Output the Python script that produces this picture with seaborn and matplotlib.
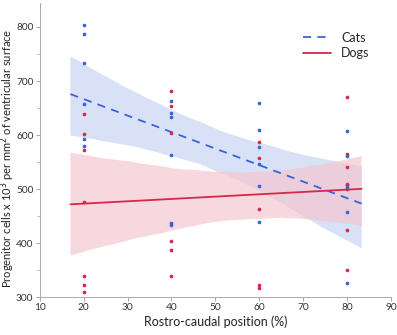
import matplotlib
matplotlib.use("Agg")
import matplotlib.pyplot as plt
import matplotlib.ticker as ticker
import numpy as np
import pandas as pd
import seaborn as sns

# values
positions = [20, 40, 60, 80]
cats_20 = [804, 787, 733, 657, 592, 579]
cats_40 = [663, 640, 633, 563, 438, 433]
cats_60 = [660, 609, 577, 546, 505, 439]
cats_80 = [608, 561, 504, 457, 327]
dogs_20 = [639, 602, 573, 477, 339, 322, 309]
dogs_40 = [682, 653, 603, 404, 387, 340]
dogs_60 = [587, 557, 464, 322, 317]
dogs_80 = [670, 565, 540, 510, 507, 501, 425, 351]

x_ticks = [10, 20, 30, 40, 50, 60, 70, 80, 90]
y_ticks = [300, 400, 500, 600, 700, 800]

CAT_COL = "#3a63d8"
DOG_COL = "#d6284a"


def build_df():
    rows = []
    for pos, vals in zip(positions, [cats_20, cats_40, cats_60, cats_80]):
        rows += [("Cats", pos, v) for v in vals]
    for pos, vals in zip(positions, [dogs_20, dogs_40, dogs_60, dogs_80]):
        rows += [("Dogs", pos, v) for v in vals]
    return pd.DataFrame(rows, columns=["species", "position", "cells"])


df = build_df()

sns.set_style("white")
plt.rcParams['font.family'] = ['Lato', 'DejaVu Sans']

fig = plt.figure(figsize=(3.97, 3.35), dpi=100)
ax = fig.add_axes([0.1, 0.113, 0.885, 0.879])

# fit lines span a little past the data, so draw them with truncate=False
ax.set_xlim(17, 83.3)
cats = df[df.species == "Cats"]
dogs = df[df.species == "Dogs"]
sns.regplot(data=cats, x="position", y="cells", ax=ax, scatter=False, truncate=False,
            color=CAT_COL, n_boot=2000, seed=3, label="Cats",
            line_kws={"lw": 1.3, "ls": (0, (4.5, 3.5))})
sns.regplot(data=dogs, x="position", y="cells", ax=ax, scatter=False, truncate=False,
            color=DOG_COL, n_boot=2000, seed=3, label="Dogs",
            line_kws={"lw": 1.3})
for coll, fc in zip(ax.collections, ["#c5d2f2", "#f4c4cd"]):
    coll.set_facecolor(fc)
    coll.set_alpha(0.65)
    coll.set_edgecolor("none")

sns.scatterplot(data=dogs, x="position", y="cells", ax=ax, color=DOG_COL, s=7,
                linewidth=0, legend=False, zorder=4)
sns.scatterplot(data=cats, x="position", y="cells", ax=ax, color=CAT_COL, s=7,
                linewidth=0, legend=False, zorder=4)

ax.set_xlim(10, 90)
ax.set_ylim(300, 845)
ax.set_xticks(x_ticks)
ax.set_yticks(y_ticks)
ax.yaxis.set_minor_locator(ticker.MultipleLocator(50))
ax.tick_params(axis="both", which="major", direction="out", length=3, width=0.6,
               color="#999999", labelsize=7.3, labelcolor="#333333", pad=1.5,
               bottom=True, left=True)
ax.tick_params(axis="y", which="minor", direction="out", length=2, width=0.5,
               color="#999999", left=True)
for side in ["top", "right"]:
    ax.spines[side].set_visible(False)
for side in ["left", "bottom"]:
    ax.spines[side].set_color("#aaaaaa")
    ax.spines[side].set_linewidth(0.7)

ax.set_xlabel("Rostro-caudal position (%)", fontsize=9, color="#222222")
ax.xaxis.set_label_coords(0.5, -0.063)
ax.set_ylabel("Progenitor cells x 10$^3$ per mm$^2$ of ventricular surface",
              fontsize=8, color="#222222")
ax.yaxis.set_label_coords(-0.064, 0.47)

ax.legend(loc="upper right", bbox_to_anchor=(0.97, 0.94), frameon=False,
          fontsize=9, handlelength=2.2, labelspacing=0.3, handletextpad=0.8)

fig.savefig("out.png", dpi=100)
